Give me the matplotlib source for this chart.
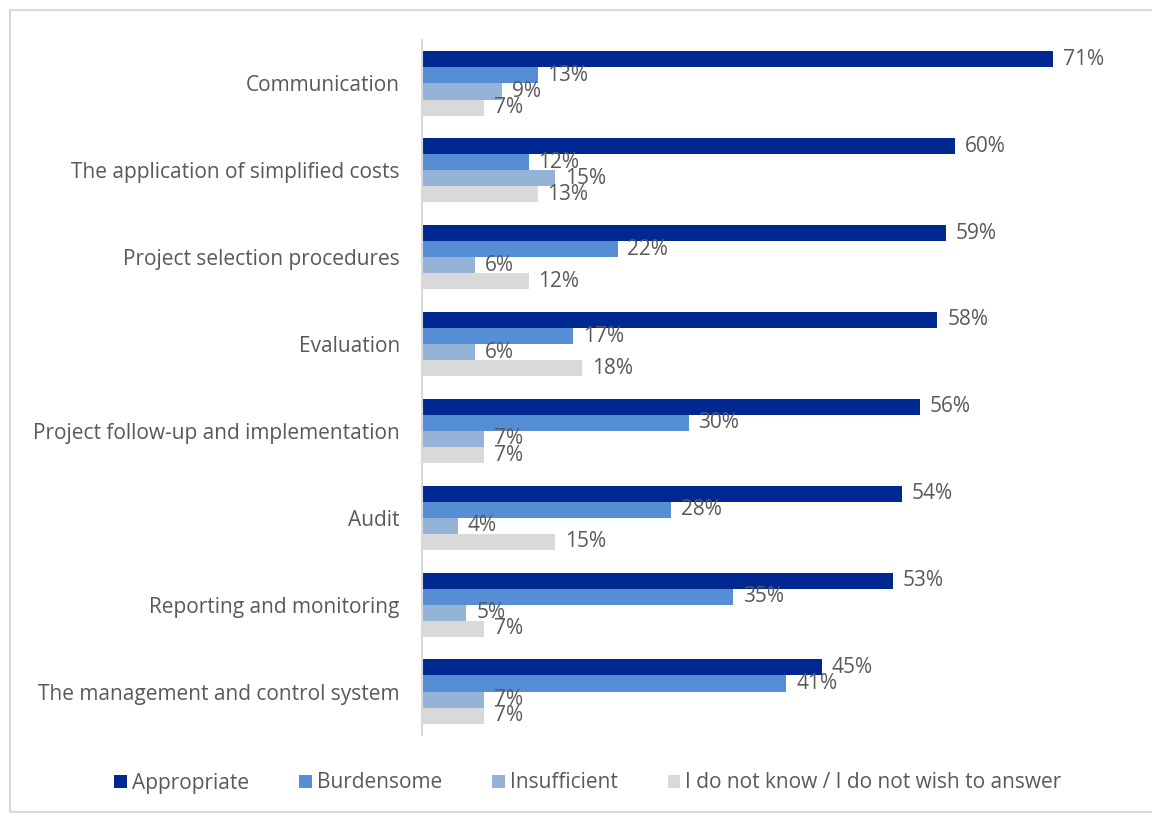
import numpy as np
import matplotlib
matplotlib.use("Agg")
import matplotlib.pyplot as plt
from matplotlib.patches import Rectangle, Patch

plt.rcParams["font.family"] = ["Open Sans", "DejaVu Sans"]

categories = [
    "Communication",
    "The application of simplified costs",
    "Project selection procedures",
    "Evaluation",
    "Project follow-up and implementation",
    "Audit",
    "Reporting and monitoring",
    "The management and control system",
]
series_names = ["Appropriate", "Burdensome", "Insufficient",
                "I do not know / I do not wish to answer"]
appropriate = [71, 60, 59, 58, 56, 54, 53, 45]
burdensome = [13, 12, 22, 17, 30, 28, 35, 41]
insufficient = [9, 15, 6, 6, 7, 4, 5, 7]
dont_know = [7, 13, 12, 18, 7, 15, 7, 7]
colors = ["#002893", "#558ED5", "#95B3D7", "#D9D9D9"]
TEXT = "#595959"
FS = 15

fig = plt.figure(figsize=(11.52, 8.16), dpi=100)
fig.patches.append(Rectangle((10 / 1152, 4 / 816), 1.0, 1 - 14 / 816,
                             transform=fig.transFigure, fill=False,
                             edgecolor="#D9D9D9", lw=1.5))
ax = fig.add_axes([422 / 1152, 1 - 735 / 816, 711 / 1152, 695 / 816])

y = np.arange(len(categories))
h = 0.185
for i, (vals, col) in enumerate(zip([appropriate, burdensome, insufficient, dont_know], colors)):
    pos = y - 1.5 * h + i * h
    ax.barh(pos, vals, height=h, color=col, label=series_names[i])
    for p, v in zip(pos, vals):
        ax.annotate(f"{v}%", (v, p), xytext=(7, 0), textcoords="offset points",
                    va="center", ha="left", fontsize=FS, color=TEXT)

ax.set_xlim(0, 80)
ax.set_ylim(len(categories) - 0.5, -0.5)
ax.set_yticks(y)
ax.set_yticklabels(categories, fontsize=FS, color=TEXT)
ax.tick_params(axis="y", length=0, pad=16)
ax.set_xticks([])
for s in ["top", "right", "bottom"]:
    ax.spines[s].set_visible(False)
ax.spines["left"].set_color("#D9D9D9")
ax.spines["left"].set_linewidth(1.5)

handles = [Patch(facecolor=c) for c in colors]
fig.legend(handles, series_names, loc="center", bbox_to_anchor=(588 / 1152, 1 - 783 / 816),
           ncol=4, frameon=False, fontsize=FS, labelcolor=TEXT,
           handlelength=0.6, handleheight=0.6, handletextpad=0.25, columnspacing=2.4)

fig.savefig("out.png", dpi=100)
